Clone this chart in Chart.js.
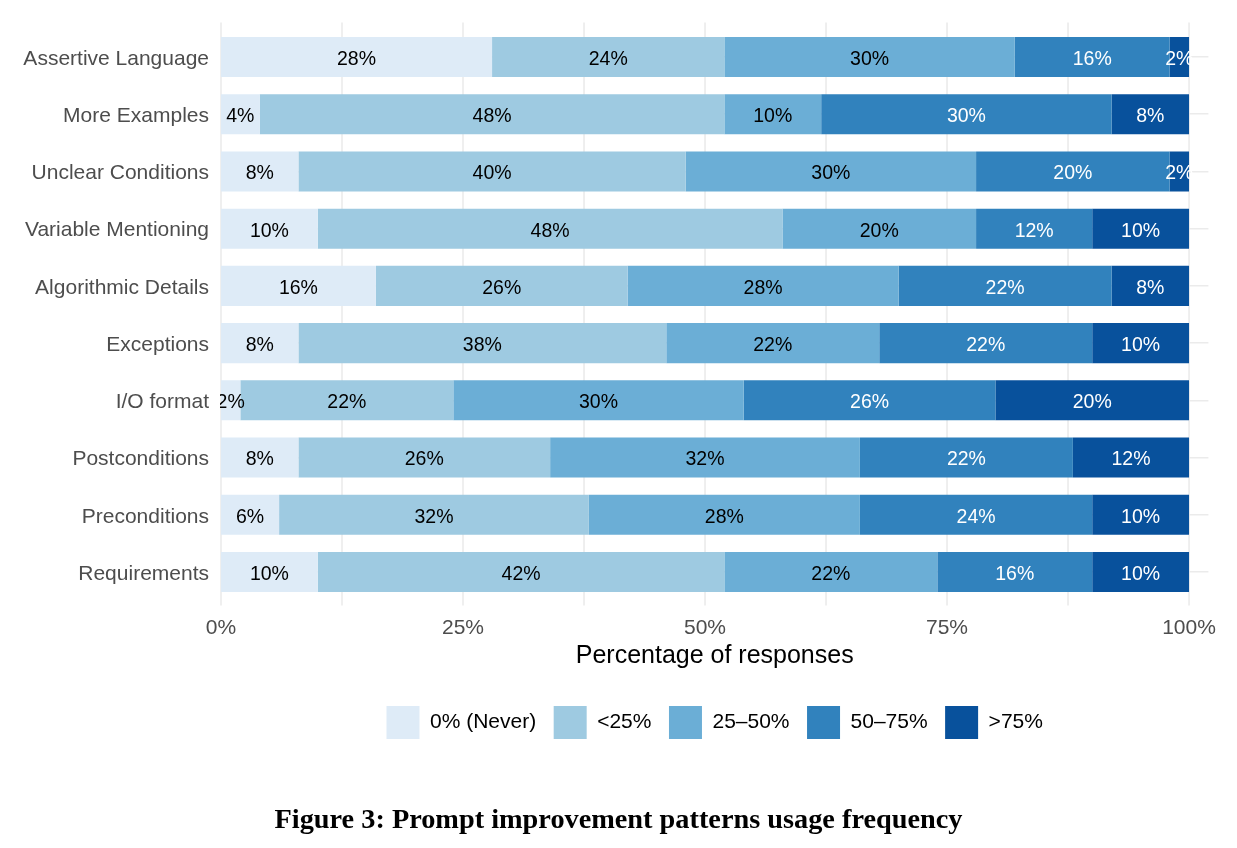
<!DOCTYPE html>
<html><head><meta charset="utf-8">
<script src="https://cdn.jsdelivr.net/npm/chart.js@4.4.0/dist/chart.umd.min.js"></script>
<style>
html,body{margin:0;padding:0;background:#fff;}
#wrap{position:relative;width:1237px;height:848px;}
#c{position:absolute;left:0;top:0;}
#cap{position:absolute;left:0;width:1237px;top:803px;text-align:center;font:bold 28.3px "Liberation Serif",serif;color:#000;white-space:nowrap;}
</style></head>
<body><div id="wrap"><canvas id="c" width="1237" height="848"></canvas>
<div id="cap">Figure 3: Prompt improvement patterns usage frequency</div></div>
<script>
const categories = ['Assertive Language','More Examples','Unclear Conditions','Variable Mentioning','Algorithmic Details','Exceptions','I/O format','Postconditions','Preconditions','Requirements'];
const seriesNames = ['0% (Never)','<25%','25–50%','50–75%','>75%'];
const never   = [28, 4, 8,10,16, 8, 2, 8, 6,10];
const under25 = [24,48,40,48,26,38,22,26,32,42];
const p25to50 = [30,10,30,20,28,22,30,32,28,22];
const p50to75 = [16,30,20,12,22,22,26,22,24,16];
const over75  = [ 2, 8, 2,10, 8,10,20,12,10,10];
const seriesValues = [never, under25, p25to50, p50to75, over75];
const colors = ['#DEEBF7','#9ECAE1','#6BAED6','#3182BD','#08519C'];
const labelColors = ['#000000','#000000','#000000','#FFFFFF','#FFFFFF'];
const xTicks = [0,25,50,75,100];
const xGrid = [0,12.5,25,37.5,50,62.5,75,87.5,100];

const vGridPlugin = {
  id:'vgrid',
  beforeDatasetsDraw(chart){
    const {ctx, chartArea, scales:{x}} = chart;
    ctx.save();
    ctx.strokeStyle = '#EBEBEB';
    ctx.lineWidth = 1.6;
    xGrid.forEach(v=>{
      const px = x.getPixelForValue(v);
      ctx.beginPath();
      ctx.moveTo(px, chartArea.top-6);
      ctx.lineTo(px, chartArea.bottom+5);
      ctx.stroke();
    });
    ctx.restore();
  }
};
const labelPlugin = {
  id:'barLabels',
  afterDatasetsDraw(chart){
    const {ctx, chartArea} = chart;
    ctx.save();
    ctx.beginPath();
    ctx.rect(chartArea.left-1, chartArea.top-10, chartArea.right-chartArea.left+1, chartArea.bottom-chartArea.top+20);
    ctx.clip();
    ctx.font = '19.5px "Liberation Sans"';
    ctx.textAlign = 'center';
    ctx.textBaseline = 'middle';
    chart.data.datasets.forEach((ds, di)=>{
      const meta = chart.getDatasetMeta(di);
      meta.data.forEach((bar, i)=>{
        const v = ds.data[i];
        if (!v) return;
        const p = bar.getProps(['x','base','y'], true);
        ctx.fillStyle = labelColors[di];
        ctx.fillText(v + '%', (p.x + p.base)/2, p.y + 2.5);
      });
    });
    ctx.restore();
  }
};

new Chart(document.getElementById('c'), {
  type:'bar',
  data:{
    labels: categories,
    datasets: seriesNames.map((n,i)=>({
      label:n, data:seriesValues[i], backgroundColor:colors[i], borderColor:colors[i], borderWidth:0,
      barPercentage:0.7, categoryPercentage:1.0
    }))
  },
  options:{
    indexAxis:'y',
    responsive:false,
    animation:false,
    layout:{padding:{left:0,right:28.6,top:28.4,bottom:99}},
    plugins:{
      legend:{
        position:'bottom', fullSize:false,
        labels:{boxWidth:33, boxHeight:33, padding:17.5, color:'#000', font:{family:'Liberation Sans', size:21}}
      },
      tooltip:{enabled:false}
    },
    scales:{
      x:{
        type:'linear', stacked:true, min:0, max:102,
        afterBuildTicks(s){ s.ticks = xTicks.map(v=>({value:v})); },
        afterFit(s){ s.height = 87.9; },
        grid:{display:false, drawTicks:false},
        border:{display:false},
        ticks:{color:'#4D4D4D', font:{family:'Liberation Sans', size:21}, padding:15, callback:v=>v+'%', maxRotation:0},
        title:{display:true, text:'Percentage of responses', color:'#000', font:{family:'Liberation Sans', size:25}, padding:{top:0,bottom:17.5}}
      },
      y:{
        stacked:true,
        afterFit(s){ s.width = 221; },
        grid:{display:true, offset:false, color:'#EBEBEB', lineWidth:1.6, drawTicks:false},
        border:{display:false},
        ticks:{color:'#4D4D4D', font:{family:'Liberation Sans', size:21}, padding:12, labelOffset:2}
      }
    }
  },
  plugins:[vGridPlugin, labelPlugin]
});
</script>
</body></html>
